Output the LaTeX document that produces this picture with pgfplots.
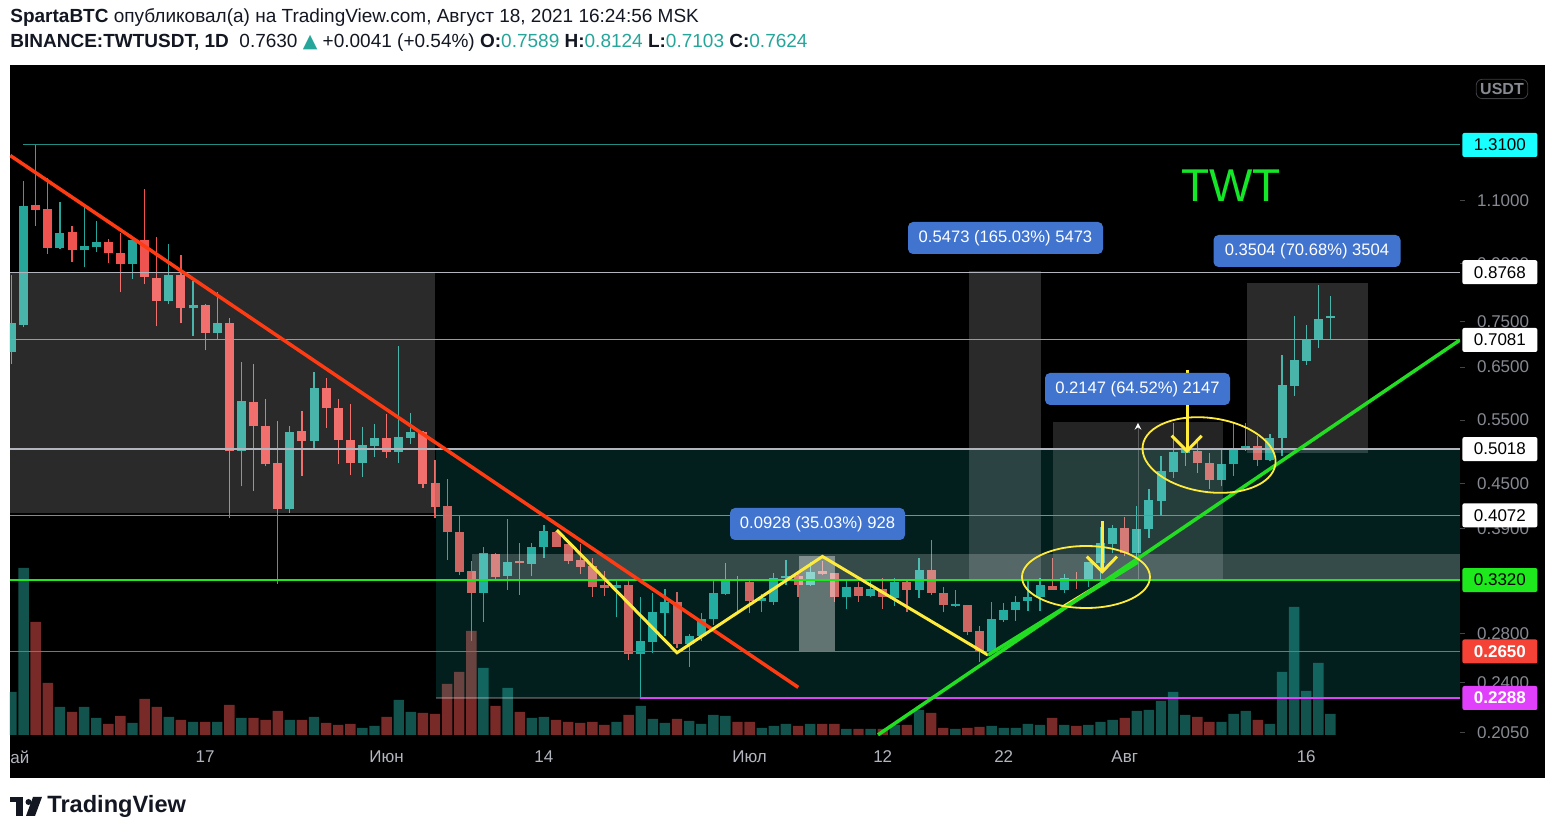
\documentclass[border=0pt]{standalone}
\usepackage{pgfplots}
\usepackage{pgfplotstable}
\pgfplotsset{compat=1.18}
\usepackage{fontspec}
\setmainfont{Liberation Sans}
\newfontfamily\dejavu{DejaVu Sans}

\definecolor{cgreen}{RGB}{38,166,154}
\definecolor{cred}{RGB}{239,83,80}
\definecolor{vgreen}{RGB}{19,83,77}
\definecolor{vred}{RGB}{120,42,40}
\definecolor{tline}{RGB}{255,59,20}
\definecolor{yline}{RGB}{255,235,59}
\definecolor{gline}{RGB}{34,221,34}
\definecolor{hgray}{RGB}{178,181,190}
\definecolor{lblue}{RGB}{64,116,207}
\definecolor{txtdark}{RGB}{19,23,34}
\definecolor{ticktext}{RGB}{135,138,146}
\definecolor{datetext}{RGB}{178,181,190}
\definecolor{lgreen}{RGB}{29,233,29}
\definecolor{lred}{RGB}{244,67,54}
\definecolor{lmag}{RGB}{224,64,251}
\definecolor{lcyan}{RGB}{24,255,255}
\definecolor{regteal}{RGB}{20,210,200}
\definecolor{twt}{RGB}{20,230,40}

% day index (0 = 1 May 2021), open, high, low, close, volume (relative)
\pgfplotstableread{
d o h l c v
0 0.681 0.868 0.657 0.746 43
1 0.743 1.168 0.737 1.080 167
2 1.083 1.316 1.014 1.067 113
3 1.069 1.179 0.928 0.946 52
4 0.945 1.093 0.942 0.991 28
5 0.994 1.013 0.906 0.939 23
6 0.939 1.077 0.890 0.951 28
7 0.948 1.032 0.934 0.963 17
8 0.966 0.973 0.904 0.931 11
9 0.933 0.993 0.823 0.901 19
10 0.901 0.973 0.859 0.970 12
11 0.970 1.141 0.846 0.863 36
12 0.862 0.979 0.739 0.800 28
13 0.800 0.957 0.792 0.868 18
14 0.868 0.927 0.746 0.782 15
15 0.782 0.852 0.717 0.791 13
16 0.791 0.794 0.685 0.724 13
17 0.724 0.823 0.711 0.746 13
18 0.747 0.760 0.404 0.499 30
19 0.499 0.661 0.446 0.584 17
20 0.582 0.656 0.440 0.539 17
21 0.539 0.587 0.475 0.478 15
22 0.481 0.548 0.328 0.416 24
23 0.416 0.539 0.410 0.530 15
24 0.532 0.566 0.461 0.514 15
25 0.514 0.641 0.503 0.609 18
26 0.609 0.628 0.537 0.572 12
27 0.572 0.587 0.478 0.516 10
28 0.517 0.579 0.462 0.480 11
29 0.481 0.538 0.460 0.508 7
30 0.507 0.543 0.489 0.519 9
31 0.519 0.561 0.488 0.497 18
32 0.497 0.695 0.480 0.521 35
33 0.520 0.563 0.510 0.530 23
34 0.530 0.532 0.444 0.450 22
35 0.451 0.485 0.404 0.418 21
36 0.419 0.457 0.354 0.386 51
37 0.386 0.408 0.337 0.341 63
38 0.342 0.353 0.274 0.319 104
39 0.319 0.368 0.291 0.361 67
40 0.360 0.362 0.331 0.335 29
41 0.336 0.402 0.322 0.351 47
42 0.351 0.373 0.317 0.350 23
43 0.349 0.373 0.336 0.368 17
44 0.368 0.395 0.356 0.387 18
45 0.386 0.387 0.368 0.369 15
46 0.372 0.377 0.349 0.353 13
47 0.354 0.372 0.338 0.346 12
48 0.347 0.356 0.315 0.325 13
49 0.327 0.342 0.316 0.324 10
50 0.324 0.332 0.295 0.327 13
51 0.327 0.332 0.258 0.263 20
52 0.263 0.315 0.229 0.274 29
53 0.273 0.319 0.264 0.300 16
54 0.299 0.323 0.278 0.310 12
55 0.310 0.320 0.268 0.271 16
56 0.271 0.280 0.252 0.278 14
57 0.278 0.299 0.274 0.294 11
58 0.294 0.332 0.288 0.319 20
59 0.318 0.350 0.317 0.331 19
60 0.332 0.336 0.299 0.331 13
61 0.330 0.331 0.299 0.311 13
62 0.311 0.318 0.300 0.314 7
63 0.310 0.339 0.307 0.334 9
64 0.334 0.354 0.327 0.336 11
65 0.336 0.338 0.315 0.327 9
66 0.327 0.351 0.326 0.340 11
67 0.342 0.353 0.337 0.338 11
68 0.339 0.339 0.310 0.315 11
69 0.315 0.331 0.303 0.325 6
70 0.325 0.330 0.310 0.316 6
71 0.316 0.333 0.315 0.323 6
72 0.323 0.334 0.303 0.315 6
73 0.314 0.334 0.306 0.330 10
74 0.330 0.331 0.300 0.322 10
75 0.322 0.356 0.314 0.343 25
76 0.343 0.377 0.317 0.319 22
77 0.319 0.325 0.300 0.307 7
78 0.306 0.322 0.305 0.307 6
79 0.307 0.307 0.279 0.282 7
80 0.283 0.287 0.256 0.265 8
81 0.265 0.310 0.264 0.294 9
82 0.293 0.309 0.291 0.302 7
83 0.302 0.316 0.292 0.310 7
84 0.311 0.331 0.301 0.315 11
85 0.315 0.334 0.301 0.327 10
86 0.326 0.356 0.322 0.322 17
87 0.322 0.338 0.319 0.334 10
88 0.333 0.341 0.323 0.331 9
89 0.331 0.351 0.325 0.351 10
90 0.350 0.393 0.333 0.373 13
91 0.372 0.395 0.361 0.391 15
92 0.391 0.405 0.358 0.361 17
93 0.361 0.419 0.356 0.390 24
94 0.390 0.442 0.379 0.428 25
95 0.426 0.491 0.406 0.469 34
96 0.467 0.544 0.458 0.498 43
97 0.496 0.504 0.476 0.501 20
98 0.499 0.515 0.465 0.480 18
99 0.481 0.496 0.443 0.455 13
100 0.455 0.501 0.446 0.479 13
101 0.478 0.545 0.461 0.501 21
102 0.501 0.545 0.499 0.507 24
103 0.507 0.523 0.476 0.485 15
104 0.485 0.527 0.483 0.520 11
105 0.519 0.676 0.491 0.615 63
106 0.613 0.764 0.593 0.665 128
107 0.663 0.743 0.655 0.707 44
108 0.707 0.843 0.691 0.757 72
109 0.7589 0.8124 0.7103 0.7624 21
}\candles

\begin{document}
\begin{tikzpicture}
\path[use as bounding box] (0,0) rectangle (777.5pt,416.5pt);
\fill[white] (0,0) rectangle (777.5pt,416.5pt);
\begin{scope}[shift={(0pt,416.5pt)},x=0.5pt,y=-0.5pt]
\fill[black] (10,65) rectangle (1545,778);
\end{scope}

% ---------- volume ----------
\begin{axis}[at={(5pt,46.5pt)},anchor=south west,scale only axis,
  width=725pt,height=337.5pt,
  xmin=-0.124,xmax=119.71,ymin=-5,ymax=670,hide axis]
\addplot[ybar,bar width=5.2pt,bar shift=0pt,fill=vgreen,draw=none,
  restrict expr to domain={\thisrow{c}-\thisrow{o}}{0:10}]
  table[x=d,y=v]{\candles};
\addplot[ybar,bar width=5.2pt,bar shift=0pt,fill=vred,draw=none,
  restrict expr to domain={\thisrow{c}-\thisrow{o}}{-10:-0.000001}]
  table[x=d,y=v]{\candles};
\end{axis}

% ---------- price ----------
\begin{axis}[at={(5pt,46.5pt)},anchor=south west,scale only axis,
  width=725pt,height=337.5pt,
  xmin=-0.124,xmax=119.71,ymin=0.2004,ymax=1.686,ymode=log,
  axis line style={draw=none},
  xtick={16,31,44,61,72,82,92,107},
  xticklabels={17,Июн,14,Июл,12,22,Авг,16},
  xtick style={draw=none},
  xticklabel style={text=datetext,font=\fontsize{8.5}{10}\selectfont,yshift=0.5pt},
  ytick={0.205,0.24,0.28,0.39,0.45,0.55,0.65,0.75,0.9,1.1},
  yticklabels={0.2050,0.2400,0.2800,0.3900,0.4500,0.5500,0.6500,0.7500,0.9000,1.1000},
  ytick pos=right,yticklabel pos=right,
  yminorticks=false,
  tick align=outside,major tick length=2.5pt,
  ytick style={draw=ticktext!50!black,line width=0.5pt},
  yticklabel style={text=ticktext,font=\fontsize{8.5}{10}\selectfont,anchor=west,xshift=2.5pt},
]
% wicks
\addplot[draw=none,mark=none,forget plot,restrict expr to domain={\thisrow{c}-\thisrow{o}}{0:10},
  error bars/.cd,y dir=plus,y explicit,error mark=none,
  error bar style={draw=cgreen,line width=0.6pt}]
  table[x=d,y=l,y error plus expr=\thisrow{h}-\thisrow{l}]{\candles};
\addplot[draw=none,mark=none,forget plot,restrict expr to domain={\thisrow{c}-\thisrow{o}}{-10:-0.000001},
  error bars/.cd,y dir=plus,y explicit,error mark=none,
  error bar style={draw=cred,line width=0.6pt}]
  table[x=d,y=l,y error plus expr=\thisrow{h}-\thisrow{l}]{\candles};
% bodies
\addplot[draw=none,mark=none,forget plot,restrict expr to domain={\thisrow{c}-\thisrow{o}}{0:10},
  error bars/.cd,y dir=plus,y explicit,error mark=none,
  error bar style={draw=cgreen,line width=4.5pt}]
  table[x=d,y expr={min(\thisrow{o},\thisrow{c})},
        y error plus expr={max(abs(\thisrow{c}-\thisrow{o}),0.006*\thisrow{o})}]{\candles};
\addplot[draw=none,mark=none,forget plot,restrict expr to domain={\thisrow{c}-\thisrow{o}}{-10:-0.000001},
  error bars/.cd,y dir=plus,y explicit,error mark=none,
  error bar style={draw=cred,line width=4.5pt}]
  table[x=d,y expr={min(\thisrow{o},\thisrow{c})},
        y error plus expr={max(abs(\thisrow{c}-\thisrow{o}),0.006*\thisrow{o})}]{\candles};

% shaded zones
\fill[white,fill opacity=0.165] (axis cs:-0.124,0.410) rectangle (axis cs:35.0,0.8768);
\fill[regteal,fill opacity=0.15] (axis cs:35.08,0.2288) rectangle (axis cs:119.71,0.5018);
\fill[white,fill opacity=0.2] (axis cs:38.06,0.332) rectangle (axis cs:119.71,0.360);
\fill[white,fill opacity=0.38] (axis cs:65.08,0.2649) rectangle (axis cs:68.06,0.3577);
\fill[white,fill opacity=0.165] (axis cs:79.13,0.3316) rectangle (axis cs:85.08,0.8789);
\fill[white,fill opacity=0.14] (axis cs:86.07,0.332) rectangle (axis cs:100.1,0.5467);
\fill[white,fill opacity=0.165] (axis cs:102.08,0.4958) rectangle (axis cs:112.08,0.8462);
\draw[-stealth,white,draw opacity=0.25,line width=0.5pt] (axis cs:93.1,0.332) -- (axis cs:93.1,0.545);

% horizontal levels
\addplot[draw=cgreen!85!black,line width=0.5pt] coordinates {(0.95,1.31) (119.71,1.31)};
\addplot[draw=hgray,line width=0.5pt] coordinates {(-0.124,0.8768) (119.71,0.8768)};
\addplot[draw=hgray!85!black,line width=0.5pt] coordinates {(-0.124,0.7081) (119.71,0.7081)};
\addplot[draw=hgray,line width=1.2pt] coordinates {(-0.124,0.5018) (119.71,0.5018)};
\addplot[draw=hgray!75!black,line width=0.5pt] coordinates {(-0.124,0.4072) (119.71,0.4072)};
\addplot[draw=lgreen,line width=0.6pt] coordinates {(-0.124,0.332) (119.71,0.332)};
\addplot[draw=lred,line width=0.6pt] coordinates {(-0.124,0.265) (119.71,0.265)};
\addplot[draw=white,draw opacity=0.25,line width=1pt] coordinates {(35.08,0.2288) (51.94,0.2288)};
\addplot[draw=lmag,line width=0.6pt] coordinates {(51.94,0.2288) (119.71,0.2288)};

% trend lines and pattern
\addplot[draw=tline,line width=1.75pt] coordinates {(-0.1,1.267) (65.02,0.2366)};
\addplot[draw=yline,line width=1.5pt] coordinates {(45.07,0.3887) (55.0,0.2639) (67.02,0.3576) (80.7,0.262)};
\addplot[draw=yline,line width=1pt] coordinates {(86.8,0.305) (93.0,0.352)};
\addplot[draw=gline,line width=1.75pt] coordinates {(80.7,0.262) (93.1,0.3514)};
\addplot[draw=gline,line width=1.75pt] coordinates {(71.61,0.2037) (119.71,0.7081)};

% ellipses and arrows
\draw[yline,line width=0.9pt] (axis cs:88.8,0.3352) ellipse [x radius=32pt,y radius=15.5pt];
\draw[yline,line width=0.9pt,rotate around={-8:(axis cs:98.97,0.4925)}] (axis cs:98.97,0.4925) ellipse [x radius=33.5pt,y radius=18.5pt];
\addplot[draw=yline,line width=1.5pt] coordinates {(90.15,0.3999) (90.15,0.3408)};
\addplot[draw=yline,line width=1.5pt] coordinates {(88.86,0.3575) (90.15,0.3408) (91.36,0.3575)};
\addplot[draw=yline,line width=1.5pt] coordinates {(97.15,0.644) (97.15,0.4988)};
\addplot[draw=yline,line width=1.5pt] coordinates {(95.88,0.5234) (97.15,0.4988) (98.36,0.5234)};

\coordinate (P1) at (axis cs:119.71,1.31);
\coordinate (P2) at (axis cs:119.71,0.8768);
\coordinate (P3) at (axis cs:119.71,0.7081);
\coordinate (P4) at (axis cs:119.71,0.5018);
\coordinate (P5) at (axis cs:119.71,0.4072);
\coordinate (P6) at (axis cs:119.71,0.332);
\coordinate (P7) at (axis cs:119.71,0.265);
\coordinate (P8) at (axis cs:119.71,0.2288);
\end{axis}

\begin{scope}[shift={(0pt,416.5pt)},x=0.5pt,y=-0.5pt]
\fill[black] (1458,738) rectangle (1545,778);
\end{scope}

% price labels
\tikzset{plab/.style={anchor=west,inner sep=0pt,minimum width=37.5pt,minimum height=12pt,
  rounded corners=1pt,font=\fontsize{8.5}{10}\selectfont}}
\node[plab,fill=lcyan,text=black] at ([xshift=1pt]P1) {1.3100};
\node[plab,fill=white,text=black] at ([xshift=1pt]P2) {0.8768};
\node[plab,fill=white,text=black] at ([xshift=1pt]P3) {0.7081};
\node[plab,fill=white,text=black] at ([xshift=1pt]P4) {0.5018};
\node[plab,fill=white,text=black] at ([xshift=1pt]P5) {0.4072};
\node[plab,fill=lgreen,text=black] at ([xshift=1pt]P6) {0.3320};
\node[plab,fill=lred,text=white] at ([xshift=1pt]P7) {\bfseries 0.2650};
\node[plab,fill=lmag,text=white] at ([xshift=1pt]P8) {\bfseries 0.2288};

\begin{scope}[shift={(0pt,416.5pt)},x=0.5pt,y=-0.5pt]
% measurement labels
\tikzset{mlab/.style={fill=lblue,text=white,rounded corners=2.5pt,inner sep=0pt,
  minimum height=16pt,font=\fontsize{8.3}{10}\selectfont}}
\node[mlab,minimum width=97.5pt] at (1005.5,238) {0.5473 (165.03\%) 5473};
\node[mlab,minimum width=93.5pt] at (1307,251) {0.3504 (70.68\%) 3504};
\node[mlab,minimum width=92.5pt] at (1137.5,389) {0.2147 (64.52\%) 2147};
\node[mlab,minimum width=87.5pt] at (817.5,524) {0.0928 (35.03\%) 928};
% title
\node[text=twt,font=\fontsize{23}{26}\selectfont] at (1231,186) {TWT};
% USDT
\node[draw=ticktext!45!black,rounded corners=3pt,text=ticktext,inner sep=2pt,
  font=\fontsize{8}{10}\selectfont\bfseries] at (1502,89) {USDT};
% date label cut at the left edge
\node[anchor=west,inner sep=0pt,text=datetext,font=\fontsize{8.5}{10}\selectfont] at (10,757) {ай};
% header
\node[anchor=west,inner sep=0pt,text=txtdark,font=\fontsize{9.5}{11}\selectfont] at (10,18)
  {\textbf{SpartaBTC} опубликовал(а) на TradingView.com, Август 18, 2021 16:24:56 MSK};
\node[anchor=west,inner sep=0pt,text=txtdark,font=\fontsize{9.5}{11}\selectfont] at (10,43)
  {\textbf{BINANCE:TWTUSDT, 1D}\ \ 0.7630 {\dejavu\color{cgreen}▲} +0.0041 (+0.54\%)
   \textbf{O:}\textcolor{cgreen}{0.7589} \textbf{H:}\textcolor{cgreen}{0.8124}
   \textbf{L:}\textcolor{cgreen}{0.7103} \textbf{C:}\textcolor{cgreen}{0.7624}};
% TradingView logo
\fill[txtdark] (10,797) rectangle (23,802);
\fill[txtdark] (16,797) rectangle (23,816);
\fill[txtdark] (28.5,802) circle (3);
\fill[txtdark] (33,797) -- (42,797) -- (35,816) -- (26,816) -- cycle;
\node[anchor=west,inner sep=0pt,text=txtdark,font=\fontsize{11.8}{13}\selectfont\bfseries] at (47,806) {TradingView};
\end{scope}
\end{tikzpicture}
\end{document}
